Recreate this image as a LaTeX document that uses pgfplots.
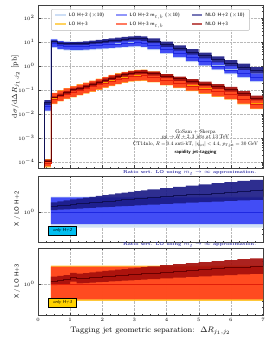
\documentclass[border=0pt]{standalone}
\usepackage{pgfplots}
\pgfplotsset{compat=1.18}
\usepackage{pgfplotstable}
\usepgfplotslibrary{fillbetween}

\definecolor{loH2}{RGB}{205,222,245}
\definecolor{mtH2}{RGB}{55,65,245}
\definecolor{nloH2}{RGB}{28,28,135}
\definecolor{loH3}{RGB}{255,195,40}
\definecolor{mtH3}{RGB}{255,65,30}
\definecolor{nloH3}{RGB}{165,15,12}
\definecolor{loH2c}{RGB}{160,185,235}
\definecolor{mtH2c}{RGB}{30,40,225}
\definecolor{nloH2c}{RGB}{15,15,85}
\definecolor{loH3c}{RGB}{255,160,0}
\definecolor{mtH3c}{RGB}{225,30,10}
\definecolor{nloH3c}{RGB}{105,0,0}
\definecolor{onlyH2}{RGB}{0,190,240}
\definecolor{onlyH3}{RGB}{255,210,0}
\definecolor{ratioblue}{RGB}{40,40,160}

% main panel, H+2 (x10)
\pgfplotstableread{
x    llo    lc     lhi    mlo    mc     mhi    nlo    nc     nhi
0.0  1e-6   1e-6   1e-6   1e-6   1e-6   1e-6   1e-6   1e-6   1e-6
0.2  0.013  0.022  0.034  0.014  0.021  0.032  0.024  0.030  0.038
0.4  5.70   8.91   13.81  6.24   8.73   13.19  9.44   10.69  11.94
0.6  4.74   7.41   11.49  5.19   7.26   10.97  7.94   9.06   10.24
0.8  4.43   6.92   10.73  4.84   6.78   10.24  7.51   8.62   9.85
1.0  4.33   6.76   10.48  4.73   6.62   10.00  7.42   8.58   9.91
1.2  4.33   6.76   10.48  4.73   6.62   10.00  7.50   8.73   10.19
1.4  4.43   6.92   10.73  4.84   6.78   10.24  7.76   9.10   10.73
1.6  4.63   7.24   11.22  5.07   7.10   10.72  8.21   9.69   11.53
1.8  4.86   7.59   11.76  5.31   7.44   11.23  8.71   10.33  12.40
2.0  5.08   7.94   12.31  5.56   7.78   11.75  9.20   10.99  13.31
2.2  5.32   8.32   12.90  5.82   8.15   12.31  9.75   11.71  14.29
2.4  5.57   8.71   13.50  6.10   8.54   12.89  10.31  12.46  15.33
2.6  5.84   9.12   14.14  6.38   8.94   13.50  10.91  13.25  16.43
2.8  6.11   9.55   14.80  6.69   9.36   14.13  11.55  14.10  17.61
3.0  6.25   9.77   15.14  6.84   9.57   14.46  11.93  14.65  18.43
3.2  5.84   9.12   14.14  6.38   8.94   13.50  11.25  13.88  17.58
3.4  4.63   7.24   11.22  5.07   7.10   10.72  9.06   11.27  14.41
3.8  3.21   5.01   7.77   3.51   4.91   7.41   6.40   8.03   10.40
4.2  2.17   3.39   5.25   2.37   3.32   5.02   4.41   5.59   7.32
4.6  1.47   2.29   3.55   1.60   2.24   3.39   3.04   3.88   5.14
5.0  0.992  1.55   2.40   1.085  1.52   2.29   2.09   2.70   3.61
5.4  0.672  1.05   1.63   0.735  1.03   1.55   1.445  1.876  2.53
5.8  0.453  0.708  1.10   0.496  0.694  1.05   0.992  1.298  1.766
6.2  0.314  0.490  0.760  0.343  0.480  0.725  0.699  0.921  1.264
6.6  0.217  0.339  0.525  0.237  0.332  0.502  0.492  0.653  0.903
7.0  0.217  0.339  0.525  0.237  0.332  0.502  0.492  0.653  0.903
}\bmain

% main panel, H+3
\pgfplotstableread{
x    llo     lc      lhi     mlo     mc      mhi     nlo     nc      nhi
0.0  1e-6    1e-6    1e-6    1e-6    1e-6    1e-6    1e-6    1e-6    1e-6
0.2  6e-5    9e-5    1.3e-4  6.5e-5  9e-5    1.25e-4 1.0e-4  1.12e-4 1.26e-4
0.4  0.0262  0.0437  0.0765  0.0275  0.0428  0.0743  0.0424  0.0481  0.0546
0.6  0.0337  0.0562  0.0984  0.0354  0.0551  0.0955  0.0552  0.0629  0.0719
0.8  0.0415  0.0692  0.1211  0.0436  0.0678  0.1176  0.0689  0.0789  0.0907
1.0  0.0499  0.0832  0.1456  0.0524  0.0815  0.1414  0.0897  0.1032  0.1173
1.2  0.0600  0.1000  0.1750  0.0630  0.0980  0.1700  0.1020  0.1180  0.1370
1.4  0.0705  0.1175  0.2056  0.0740  0.1152  0.1998  0.1214  0.1410  0.1645
1.6  0.0848  0.1413  0.2473  0.0890  0.1385  0.2402  0.1478  0.1724  0.2021
1.8  0.1019  0.1698  0.2972  0.1070  0.1664  0.2887  0.1797  0.2106  0.2479
2.0  0.1225  0.2042  0.3574  0.1286  0.2001  0.3471  0.2187  0.2573  0.3043
2.2  0.1473  0.2455  0.4296  0.1547  0.2406  0.4174  0.2659  0.3142  0.3732
2.4  0.1730  0.2884  0.5047  0.1817  0.2826  0.4903  0.3161  0.3749  0.4470
2.6  0.1987  0.3311  0.5794  0.2086  0.3245  0.5629  0.3672  0.4371  0.5231
2.8  0.2229  0.3715  0.6501  0.2340  0.3641  0.6316  0.4165  0.4978  0.5981
3.0  0.2389  0.3981  0.6967  0.2508  0.3901  0.6768  0.4514  0.5414  0.6529
3.2  0.2444  0.4074  0.7130  0.2567  0.3993  0.6926  0.4669  0.5622  0.6804
3.4  0.2080  0.3467  0.6067  0.2184  0.3398  0.5894  0.4039  0.4888  0.5946
3.8  0.1578  0.2630  0.4603  0.1657  0.2577  0.4471  0.3130  0.3814  0.4668
4.2  0.1197  0.1995  0.3491  0.1257  0.1955  0.3392  0.2426  0.2973  0.3661
4.6  0.0908  0.1514  0.2650  0.0954  0.1484  0.2574  0.1879  0.2316  0.2869
5.0  0.0689  0.1148  0.2009  0.0723  0.1125  0.1952  0.1453  0.1802  0.2244
5.4  0.0523  0.0871  0.1524  0.0549  0.0854  0.1481  0.1124  0.1402  0.1755
5.8  0.0397  0.0661  0.1157  0.0416  0.0648  0.1124  0.0871  0.1091  0.1372
6.2  0.0256  0.0427  0.0747  0.0269  0.0418  0.0726  0.0573  0.0722  0.0912
6.6  0.0161  0.0269  0.0471  0.0169  0.0264  0.0457  0.0368  0.0465  0.0590
7.0  0.0161  0.0269  0.0471  0.0169  0.0264  0.0457  0.0368  0.0465  0.0590
}\rmain

% ratio panel, H+2
\pgfplotstableread{
x    llo   lc  lhi   mlo   mc    mhi   nlo    nc     nhi
0.4  0.62  1   1.60  0.69  0.98  1.56  1.060  1.200  1.340
0.6  0.62  1   1.60  0.69  0.98  1.56  1.072  1.223  1.382
0.8  0.62  1   1.60  0.69  0.98  1.56  1.085  1.246  1.424
1.0  0.62  1   1.60  0.69  0.98  1.56  1.097  1.269  1.466
1.2  0.62  1   1.60  0.69  0.98  1.56  1.110  1.292  1.508
1.4  0.62  1   1.60  0.69  0.98  1.56  1.122  1.315  1.550
1.6  0.62  1   1.60  0.69  0.98  1.56  1.134  1.338  1.592
1.8  0.62  1   1.60  0.69  0.98  1.56  1.147  1.361  1.634
2.0  0.62  1   1.60  0.69  0.98  1.56  1.159  1.384  1.676
2.2  0.62  1   1.60  0.69  0.98  1.56  1.172  1.407  1.718
2.4  0.62  1   1.60  0.69  0.98  1.56  1.184  1.430  1.760
2.6  0.62  1   1.60  0.69  0.98  1.56  1.196  1.453  1.802
2.8  0.62  1   1.60  0.69  0.98  1.56  1.209  1.476  1.844
3.0  0.62  1   1.60  0.69  0.98  1.56  1.221  1.499  1.886
3.2  0.62  1   1.60  0.69  0.98  1.56  1.234  1.522  1.928
3.4  0.62  1   1.60  0.69  0.98  1.56  1.252  1.557  1.991
3.8  0.62  1   1.60  0.69  0.98  1.56  1.277  1.603  2.075
4.2  0.62  1   1.60  0.69  0.98  1.56  1.302  1.649  2.159
4.6  0.62  1   1.60  0.69  0.98  1.56  1.327  1.695  2.243
5.0  0.62  1   1.60  0.69  0.98  1.56  1.351  1.741  2.327
5.4  0.62  1   1.60  0.69  0.98  1.56  1.376  1.787  2.411
5.8  0.62  1   1.60  0.69  0.98  1.56  1.401  1.833  2.495
6.2  0.62  1   1.60  0.69  0.98  1.56  1.426  1.879  2.579
6.6  0.62  1   1.60  0.69  0.98  1.56  1.451  1.925  2.663
7.0  0.62  1   1.60  0.69  0.98  1.56  1.451  1.925  2.663
}\bratio

% ratio panel, H+3
\pgfplotstableread{
x    llo   lc  lhi   mlo   mc    mhi   nlo    nc     nhi
0.4  0.60  1   1.75  0.63  0.98  1.70  0.970  1.100  1.250
0.6  0.60  1   1.75  0.63  0.98  1.70  0.983  1.120  1.280
0.8  0.60  1   1.75  0.63  0.98  1.70  0.995  1.140  1.310
1.0  0.60  1   1.75  0.63  0.98  1.70  1.078  1.240  1.410
1.2  0.60  1   1.75  0.63  0.98  1.70  1.020  1.180  1.370
1.4  0.60  1   1.75  0.63  0.98  1.70  1.033  1.200  1.400
1.6  0.60  1   1.75  0.63  0.98  1.70  1.046  1.220  1.430
1.8  0.60  1   1.75  0.63  0.98  1.70  1.058  1.240  1.460
2.0  0.60  1   1.75  0.63  0.98  1.70  1.071  1.260  1.490
2.2  0.60  1   1.75  0.63  0.98  1.70  1.083  1.280  1.520
2.4  0.60  1   1.75  0.63  0.98  1.70  1.096  1.300  1.550
2.6  0.60  1   1.75  0.63  0.98  1.70  1.109  1.320  1.580
2.8  0.60  1   1.75  0.63  0.98  1.70  1.121  1.340  1.610
3.0  0.60  1   1.75  0.63  0.98  1.70  1.134  1.360  1.640
3.2  0.60  1   1.75  0.63  0.98  1.70  1.146  1.380  1.670
3.4  0.60  1   1.75  0.63  0.98  1.70  1.165  1.410  1.715
3.8  0.60  1   1.75  0.63  0.98  1.70  1.190  1.450  1.775
4.2  0.60  1   1.75  0.63  0.98  1.70  1.216  1.490  1.835
4.6  0.60  1   1.75  0.63  0.98  1.70  1.241  1.530  1.895
5.0  0.60  1   1.75  0.63  0.98  1.70  1.266  1.570  1.955
5.4  0.60  1   1.75  0.63  0.98  1.70  1.291  1.610  2.015
5.8  0.60  1   1.75  0.63  0.98  1.70  1.317  1.650  2.075
6.2  0.60  1   1.75  0.63  0.98  1.70  1.342  1.690  2.135
6.6  0.60  1   1.75  0.63  0.98  1.70  1.367  1.730  2.195
7.0  0.60  1   1.75  0.63  0.98  1.70  1.367  1.730  2.195
}\rratio

\newcommand{\band}[5]{%
  \addplot[const plot, draw=none, forget plot, name path=#5lo] table[x=x,y=#2]{#1};
  \addplot[const plot, draw=none, forget plot, name path=#5hi] table[x=x,y=#3]{#1};
  \addplot[fill=#4, draw=none, forget plot, fill opacity=0.92] fill between[of=#5lo and #5hi];
}
\newcommand{\cenline}[3]{%
  \addplot[const plot, draw=#3, line width=0.55pt, forget plot] table[x=x,y=#2]{#1};
}

\pgfplotsset{
  common/.style={
    scale only axis, width=225pt, anchor=south west,
    xmin=0, xmax=7, xtick={0,1,...,7}, minor x tick num=3,
    tick align=inside, grid=major,
    major grid style={densely dotted, gray!55, line width=0.35pt},
    axis line style={line width=0.6pt, black!75},
    tick style={black!75, line width=0.4pt},
    major tick length=2.5pt, minor tick length=1.4pt,
    tick label style={font=\fontsize{5.5}{6}\selectfont},
    clip=true,
  }
}

\begin{document}
\begin{tikzpicture}

% ---------------- main panel
\begin{axis}[common, name=main, at={(38pt,177pt)}, height=163pt,
  ymode=log, ymin=5.6e-5, ymax=355,
  ytick={1e-4,1e-3,1e-2,1e-1,1,10,100},
  minor ytick={6e-5,7e-5,8e-5,9e-5,
    2e-4,3e-4,4e-4,5e-4,6e-4,7e-4,8e-4,9e-4,
    2e-3,3e-3,4e-3,5e-3,6e-3,7e-3,8e-3,9e-3,
    0.02,0.03,0.04,0.05,0.06,0.07,0.08,0.09,
    0.2,0.3,0.4,0.5,0.6,0.7,0.8,0.9,
    2,3,4,5,6,7,8,9,20,30,40,50,60,70,80,90,200,300},
  xticklabels={},
  ylabel={$\mathrm{d}\sigma/\mathrm{d}\Delta R_{j_1,j_2}$ [pb]},
  ylabel style={at={(axis description cs:-0.1,0.5)}, anchor=center, font=\fontsize{7.2}{8}\selectfont},
  legend columns=3,
  legend cell align=left,
  legend style={at={(0.5,0.975)}, anchor=north, draw=gray!55, rounded corners=1pt,
    font=\sffamily\bfseries\fontsize{4.8}{5.6}\selectfont, text=black!75,
    inner xsep=3pt, inner ysep=1.5pt,
    /tikz/every even column/.append style={column sep=9pt}},
  legend image code/.code={\draw[#1] (0cm,0cm) -- (0.36cm,0cm);},
]
\addlegendimage{line width=2.2pt, color=loH2}
\addlegendentry{LO H+2 ($\times$10)}
\addlegendimage{line width=2.2pt, color=mtH2!55}
\addlegendentry{LO H+2 m$_{t,b}$ ($\times$10)}
\addlegendimage{line width=2.2pt, color=nloH2!60}
\addlegendentry{NLO H+2 ($\times$10)}
\addlegendimage{line width=2.2pt, color=loH3!75}
\addlegendentry{LO H+3}
\addlegendimage{line width=2.2pt, color=mtH3!70}
\addlegendentry{LO H+3 m$_{t,b}$}
\addlegendimage{line width=2.2pt, color=nloH3!70}
\addlegendentry{NLO H+3}

\band{\bmain}{llo}{lhi}{loH2}{mbl}
\band{\bmain}{mlo}{mhi}{mtH2}{mbm}
\band{\bmain}{nlo}{nhi}{nloH2}{mbn}
\band{\rmain}{llo}{lhi}{loH3}{mrl}
\band{\rmain}{mlo}{mhi}{mtH3}{mrm}
\band{\rmain}{nlo}{nhi}{nloH3}{mrn}
\cenline{\bmain}{lc}{loH2c}
\cenline{\bmain}{mc}{mtH2c}
\cenline{\bmain}{nc}{nloH2c}
\cenline{\rmain}{lc}{loH3c}
\cenline{\rmain}{mc}{mtH3c}
\cenline{\rmain}{nc}{nloH3c}

\node[font=\normalsize, scale=0.53] at (rel axis cs:0.70,0.223) {GoSam + Sherpa};
\node[font=\normalsize, scale=0.53] at (rel axis cs:0.70,0.188) {$pp\to H+2,3$ jets at 13 TeV};
\node[font=\normalsize, scale=0.52] at (rel axis cs:0.70,0.145) {CT14nlo, $R=0.4$ anti-kT, $|\eta_{\mathrm{jet}}|<4.4$, $p_{T,\mathrm{jet}}=30$ GeV};
\node[font=\sffamily\bfseries\normalsize, scale=0.48] at (rel axis cs:0.70,0.094) {rapidity jet-tagging};
\end{axis}

% ---------------- ratio H+2
\begin{axis}[common, name=r1, at={(38pt,103pt)}, height=66pt,
  ymode=log, ymin=0.4, ymax=3,
  ytick={1}, minor ytick={0.5,0.6,0.7,0.8,0.9,2,3},
  xticklabels={},
  ylabel={X / LO H+2},
  ylabel style={at={(axis description cs:-0.093,0.5)}, anchor=center, font=\sffamily\fontsize{6}{7}\selectfont},
]
\band{\bratio}{llo}{lhi}{loH2}{ral}
\band{\bratio}{mlo}{mhi}{mtH2}{ram}
\band{\bratio}{nlo}{nhi}{nloH2}{ran}
\cenline{\bratio}{lc}{loH2c}
\cenline{\bratio}{mc}{mtH2c}
\cenline{\bratio}{nc}{nloH2c}
\node[fill=onlyH2, draw=black, line width=0.6pt, font=\sffamily\itshape\fontsize{4.4}{5}\selectfont,
  inner sep=1.5pt, minimum width=28pt, minimum height=9pt] at (rel axis cs:0.109,0.174) {only H+2};
\end{axis}

% ---------------- ratio H+3
\begin{axis}[common, name=r2, at={(38pt,30pt)}, height=67pt,
  ymode=log, ymin=0.39, ymax=3,
  ytick={1}, minor ytick={0.4,0.5,0.6,0.7,0.8,0.9,2,3},
  ylabel={X / LO H+3},
  ylabel style={at={(axis description cs:-0.093,0.5)}, anchor=center, font=\sffamily\fontsize{6}{7}\selectfont},
  xlabel={Tagging jet geometric separation:\ \ $\Delta R_{j_1,j_2}$},
  xlabel style={font=\fontsize{8}{9}\selectfont, yshift=2pt},
]
\band{\rratio}{llo}{lhi}{loH3}{rbl}
\band{\rratio}{mlo}{mhi}{mtH3}{rbm}
\band{\rratio}{nlo}{nhi}{nloH3}{rbn}
\cenline{\rratio}{lc}{loH3c}
\cenline{\rratio}{mc}{mtH3c}
\cenline{\rratio}{nc}{nloH3c}
\node[fill=onlyH3, draw=black, line width=0.6pt, font=\sffamily\itshape\fontsize{4.4}{5}\selectfont,
  inner sep=1.5pt, minimum width=28pt, minimum height=9pt] at (rel axis cs:0.109,0.187) {only H+3};
\end{axis}

\node[anchor=south east, inner sep=0.6pt, text=ratioblue, font=\bfseries\fontsize{4.3}{5}\selectfont]
  at ([xshift=-6pt]r1.north east) {Ratio wrt. LO using $m_t\to\infty$ approximation.};
\node[anchor=south east, inner sep=0.6pt, text=ratioblue, font=\bfseries\fontsize{4.3}{5}\selectfont]
  at ([xshift=-6pt]r2.north east) {Ratio wrt. LO using $m_t\to\infty$ approximation.};
\path (0,0) rectangle (272pt,345pt);
\end{tikzpicture}
\end{document}
